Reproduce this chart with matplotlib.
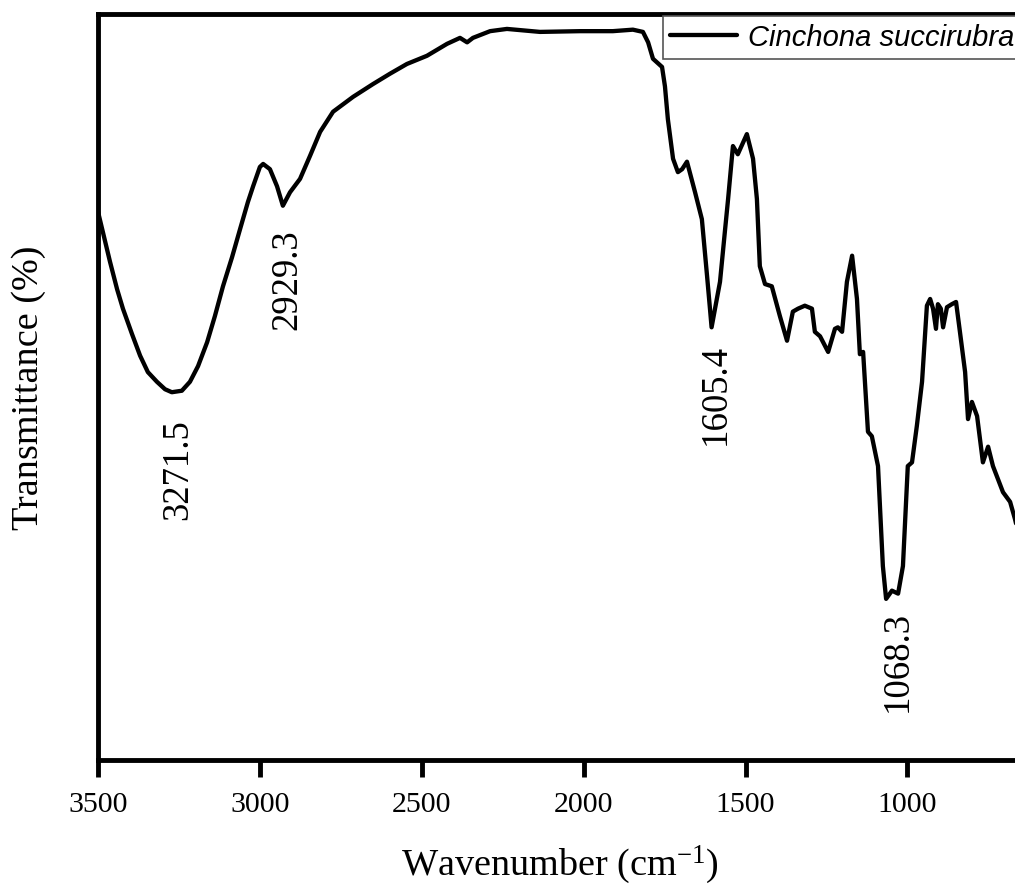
import matplotlib
matplotlib.use("Agg")
import matplotlib.pyplot as plt

# FTIR spectrum of Cinchona succirubra
wavenumber = [3500, 3463, 3441, 3423, 3395, 3370, 3346, 3318, 3293, 3272,
              3241, 3216, 3191, 3163, 3139, 3114, 3086, 3061, 3037, 3021,
              3000, 2990, 2969, 2947, 2929, 2907, 2876, 2845, 2814, 2774,
              2712, 2651, 2598, 2546, 2484, 2422, 2382, 2360, 2342, 2289,
              2237, 2135, 2011, 1910, 1848, 1817, 1801, 1786, 1758, 1749,
              1740, 1724, 1709, 1696, 1681, 1656, 1635, 1619, 1610, 1605,
              1579, 1564, 1554, 1539, 1524, 1496, 1477, 1465, 1456, 1440,
              1419, 1394, 1372, 1354, 1338, 1317, 1295, 1286, 1270, 1245,
              1224, 1215, 1202, 1187, 1171, 1156, 1147, 1137, 1122, 1110,
              1091, 1076, 1066, 1048, 1029, 1014, 999, 986, 971, 955,
              940, 930, 921, 912, 906, 897, 890, 878, 863, 850,
              838, 822, 813, 801, 785, 767, 751, 736, 705, 683, 668, 650]
transmittance = [73.5, 66.8, 63.1, 60.5, 57.1, 54.2, 52.0, 50.7, 49.7, 49.3,
                 49.5, 50.7, 52.8, 56.0, 59.5, 63.5, 67.4, 71.2, 74.8, 76.9,
                 79.5, 79.9, 79.2, 76.9, 74.3, 76.1, 77.9, 81.0, 84.2, 86.9,
                 88.9, 90.6, 92.0, 93.3, 94.4, 96.0, 96.8, 96.2, 96.8, 97.7,
                 98.0, 97.6, 97.7, 97.7, 97.9, 97.6, 96.2, 94.0, 92.9, 90.3,
                 85.9, 80.6, 78.8, 79.2, 80.2, 76.1, 72.5, 64.9, 60.5, 58.0,
                 64.1, 70.8, 75.2, 82.3, 81.2, 83.9, 80.6, 75.2, 66.2, 63.8,
                 63.5, 59.5, 56.2, 60.1, 60.5, 60.9, 60.5, 57.4, 56.8, 54.7,
                 57.8, 58.0, 57.4, 64.1, 67.6, 61.8, 54.4, 54.7, 44.0, 43.4,
                 39.4, 26.0, 21.6, 22.7, 22.3, 26.0, 39.4, 39.9, 44.8, 50.7,
                 60.9, 61.8, 60.5, 57.8, 61.1, 60.5, 58.0, 60.7, 61.1, 61.4,
                 57.4, 52.0, 45.7, 48.0, 46.1, 39.9, 42.0, 39.4, 35.9, 34.6, 32.3, 29.0]

peak_labels = ["3271.5", "2929.3", "1605.4", "1068.3"]
label_x = [3254.5, 2916.3, 1591.4, 1030.9]
label_y = [39.1, 64.5, 49.2, 13.4]

xticks = [3500, 3000, 2500, 2000, 1500, 1000]
series_name = "Cinchona succirubra"

serif = "Liberation Serif"
plt.rcParams["font.family"] = [serif, "DejaVu Serif"]
plt.rcParams["mathtext.fontset"] = "custom"
plt.rcParams["mathtext.rm"] = serif
plt.rcParams["mathtext.it"] = serif + ":italic"

fig = plt.figure(figsize=(10.15, 8.87), dpi=100)
ax = fig.add_axes([98 / 1015, 1 - 761 / 887, 922.8 / 1015, 746 / 887])

ax.plot(wavenumber, transmittance, color="black", lw=3.1, label=series_name,
        solid_joinstyle="round", solid_capstyle="round")

ax.set_xlim(3500, 650)
ax.set_ylim(0, 100)
ax.set_xticks(xticks)
ax.set_xticklabels([str(t) for t in xticks])
ax.set_yticks([])

for s in ax.spines.values():
    s.set_linewidth(3.5)
ax.tick_params(axis="x", direction="out", length=12, width=3.5, pad=10,
               labelsize=21.5, top=False)

for txt, xv, yv in zip(peak_labels, label_x, label_y):
    ax.text(xv, yv, txt, rotation=90, ha="center", va="center", fontsize=26.5,
            fontfamily=serif)

ax.set_xlabel("Wavenumber (cm$^{-1}$)", fontsize=27.5, va="center")
ax.xaxis.set_label_coords(560 / 1015, 1 - 865 / 887, transform=fig.transFigure)
ax.set_ylabel("Transmittance (%)", fontsize=27.5, va="center")
ax.yaxis.set_label_coords(29 / 1015, 1 - 388 / 887, transform=fig.transFigure)

leg = ax.legend(loc="upper left", bbox_to_anchor=(663 / 1015, 1 - 17 / 887),
                bbox_transform=fig.transFigure, borderaxespad=0,
                prop={"family": "Liberation Sans", "style": "italic", "size": 21},
                handlelength=2.3, handletextpad=0.38, borderpad=0.25,
                fancybox=False, framealpha=1, edgecolor="#555555")
leg.get_frame().set_linewidth(1.2)

fig.savefig("out.png", dpi=100)
